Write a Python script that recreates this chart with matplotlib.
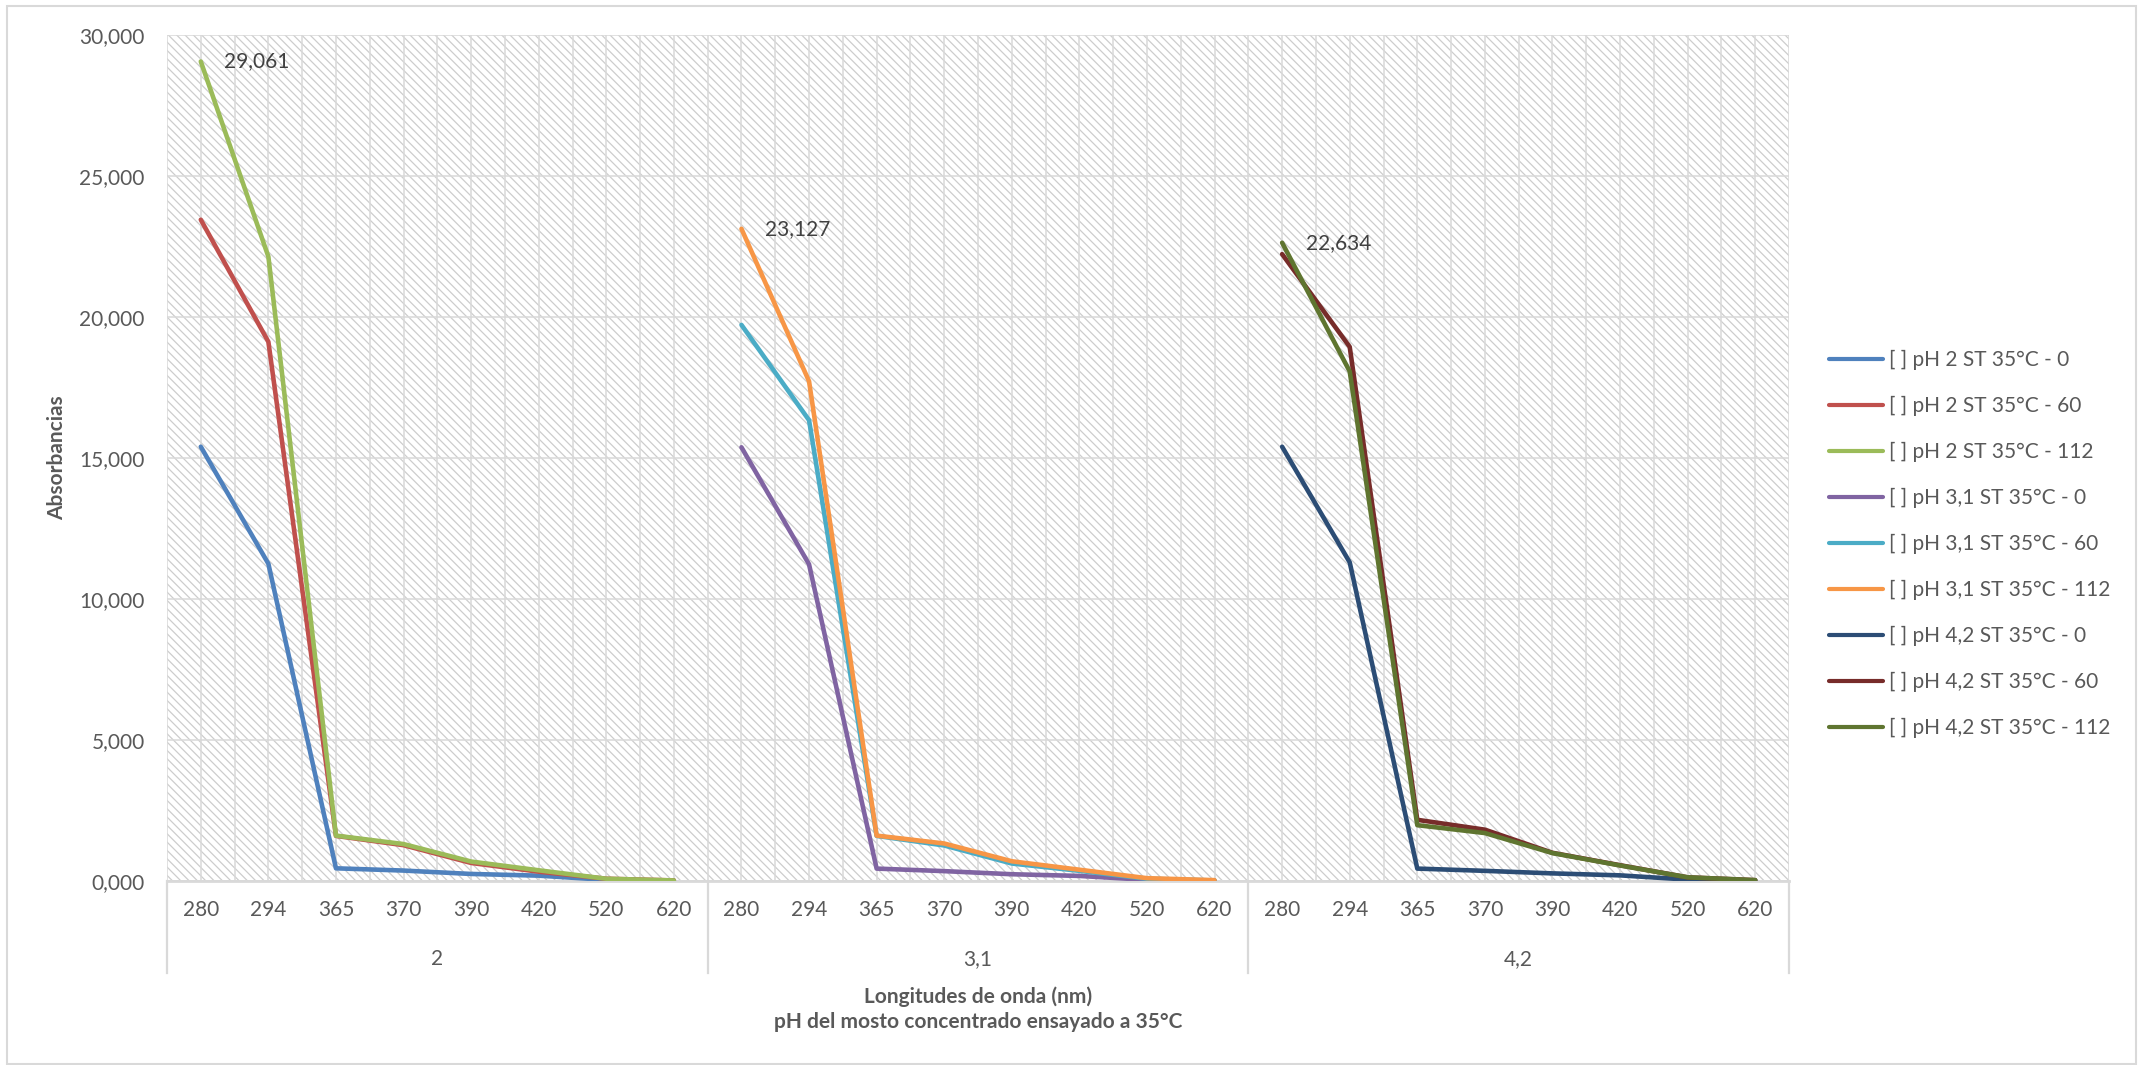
import matplotlib
matplotlib.use("Agg")
import matplotlib.pyplot as plt
import numpy as np
from matplotlib.patches import Rectangle
from matplotlib.lines import Line2D
from matplotlib.ticker import FixedLocator, FuncFormatter

plt.rcParams['font.family'] = ['Lato', 'DejaVu Sans']
plt.rcParams['hatch.linewidth'] = 0.9

# Category axis: three pH groups, eight wavelengths each
wavelengths = ["280", "294", "365", "370", "390", "420", "520", "620"]
ph_groups = ["2", "3,1", "4,2"]

series_names = [
    "[ ] pH 2 ST 35°C - 0", "[ ] pH 2 ST 35°C - 60", "[ ] pH 2 ST 35°C - 112",
    "[ ] pH 3,1 ST 35°C - 0", "[ ] pH 3,1 ST 35°C - 60", "[ ] pH 3,1 ST 35°C - 112",
    "[ ] pH 4,2 ST 35°C - 0", "[ ] pH 4,2 ST 35°C - 60", "[ ] pH 4,2 ST 35°C - 112",
]
series_colors = [
    "#4F81BD", "#C0504D", "#9BBB59",
    "#8064A2", "#4BACC6", "#F79646",
    "#2C4D75", "#772C2A", "#5F7530",
]
# group index each series belongs to
series_group = [0, 0, 0, 1, 1, 1, 2, 2, 2]

ph2_t0 = [15.40, 11.25, 0.45, 0.37, 0.25, 0.19, 0.04, 0.01]
ph2_t60 = [23.45, 19.12, 1.60, 1.27, 0.64, 0.33, 0.08, 0.02]
ph2_t112 = [29.061, 22.14, 1.61, 1.31, 0.69, 0.38, 0.08, 0.02]
ph31_t0 = [15.38, 11.23, 0.44, 0.35, 0.24, 0.18, 0.04, 0.01]
ph31_t60 = [19.72, 16.34, 1.60, 1.26, 0.62, 0.36, 0.08, 0.02]
ph31_t112 = [23.127, 17.72, 1.61, 1.33, 0.70, 0.40, 0.10, 0.03]
ph42_t0 = [15.40, 11.30, 0.44, 0.36, 0.27, 0.20, 0.05, 0.02]
ph42_t60 = [22.23, 18.94, 2.17, 1.82, 1.00, 0.56, 0.13, 0.03]
ph42_t112 = [22.634, 18.07, 1.98, 1.70, 0.99, 0.55, 0.13, 0.03]

series_values = [ph2_t0, ph2_t60, ph2_t112,
                 ph31_t0, ph31_t60, ph31_t112,
                 ph42_t0, ph42_t60, ph42_t112]

# series whose first point carries a value label
labelled_series = [2, 5, 8]

TEXT = "#595959"
GRID = "#d9d9d9"
FS = 15


def comma_dec(v, nd=3):
    return f"{v:.{nd}f}".replace(".", ",")


fig = plt.figure(figsize=(21.4, 10.65), dpi=100)
W, H = 2140, 1065
ax_l, ax_r, ax_t, ax_b = 167, 1789, 35, 881
ax = fig.add_axes([ax_l / W, 1 - ax_b / H, (ax_r - ax_l) / W, (ax_b - ax_t) / H])

n_cat = len(wavelengths) * len(ph_groups)
ax.set_xlim(-0.5, n_cat - 0.5)
ax.set_ylim(0, 30)

# hatched plot-area fill
ax.patch.set_facecolor("white")
hatch = Rectangle((0, 0), 1, 1, transform=ax.transAxes, facecolor="white",
                  edgecolor="#cdcdcd", hatch="\\\\\\\\", linewidth=0, zorder=0)
ax.add_patch(hatch)

# gridlines
ax.set_yticks(np.arange(0, 30.01, 5))
ax.yaxis.set_major_formatter(FuncFormatter(lambda v, p: comma_dec(v)))
ax.set_xticks(np.arange(n_cat))
ax.set_xticklabels(wavelengths * len(ph_groups))
ax.xaxis.set_minor_locator(FixedLocator(np.arange(-0.5, n_cat, 1.0)))
ax.grid(True, axis="y", color=GRID, lw=1.1, zorder=1)
ax.grid(True, axis="x", which="both", color=GRID, lw=1.1, zorder=1)
ax.set_axisbelow(True)
for s in ax.spines.values():
    s.set_visible(False)
ax.tick_params(axis="both", which="both", length=0, labelsize=FS, colors=TEXT)
ax.tick_params(axis="x", pad=14)
ax.tick_params(axis="y", pad=16)

# horizontal axis line
ax.axhline(0, color=GRID, lw=2.0, zorder=2, clip_on=False)

# series
for i, (name, vals) in enumerate(zip(series_names, series_values)):
    x0 = series_group[i] * len(wavelengths)
    xs = np.arange(x0, x0 + len(vals))
    ax.plot(xs, vals, color=series_colors[i], lw=3.3, label=name,
            solid_capstyle="round", solid_joinstyle="round", zorder=3 + i * 0.01)
    if i in labelled_series:
        ax.annotate(comma_dec(vals[0]), (xs[0], vals[0]), xytext=(17, 0),
                    textcoords="offset points", ha="left", va="center",
                    fontsize=FS, color="#404040", zorder=5)

# group level of the category axis
xtr = ax.get_xaxis_transform()
axh = ax_b - ax_t
sep_bottom = -(973 - ax_b) / axh
grp_y = -(959 - ax_b) / axh
for g in range(len(ph_groups) + 1):
    xb = g * len(wavelengths) - 0.5
    ax.add_line(Line2D([xb, xb], [0, sep_bottom], transform=xtr, color=GRID,
                       lw=1.6, clip_on=False))
for g, lab in enumerate(ph_groups):
    xc = g * len(wavelengths) + (len(wavelengths) - 1) / 2
    ax.text(xc, grp_y, lab, transform=xtr, ha="center", va="center",
            fontsize=FS, color=TEXT)

# axis titles
ax.set_ylabel("Absorbancias", fontsize=FS, fontweight="bold", color=TEXT)
ax.yaxis.set_label_coords(67 / W, 1 - 458 / H, transform=fig.transFigure)
x_title_c = 0.5 * (ax_l + ax_r) / W
fig.text(x_title_c, 1 - 997 / H, "Longitudes de onda (nm)", ha="center", va="center",
         fontsize=FS, fontweight="bold", color=TEXT)
fig.text(x_title_c, 1 - 1022 / H, "pH del mosto concentrado ensayado a 35°C",
         ha="center", va="center", fontsize=FS, fontweight="bold", color=TEXT)

# legend
leg = ax.legend(loc="center left", bbox_to_anchor=(1829 / W, 1 - 544 / H),
                bbox_transform=fig.transFigure, frameon=False, fontsize=FS,
                borderpad=0, borderaxespad=0, handlelength=2.6,
                handletextpad=0.3, labelspacing=1.24)
for t in leg.get_texts():
    t.set_color(TEXT)
for h in leg.get_lines():
    h.set_linewidth(3.0)

# chart border
fig.add_artist(Rectangle((7 / W, 1 / H), (2136 - 7) / W, (1059 - 1) / H,
                         transform=fig.transFigure, fill=False,
                         edgecolor="#d9d9d9", lw=1.5))

fig.savefig("out.png", dpi=100)
